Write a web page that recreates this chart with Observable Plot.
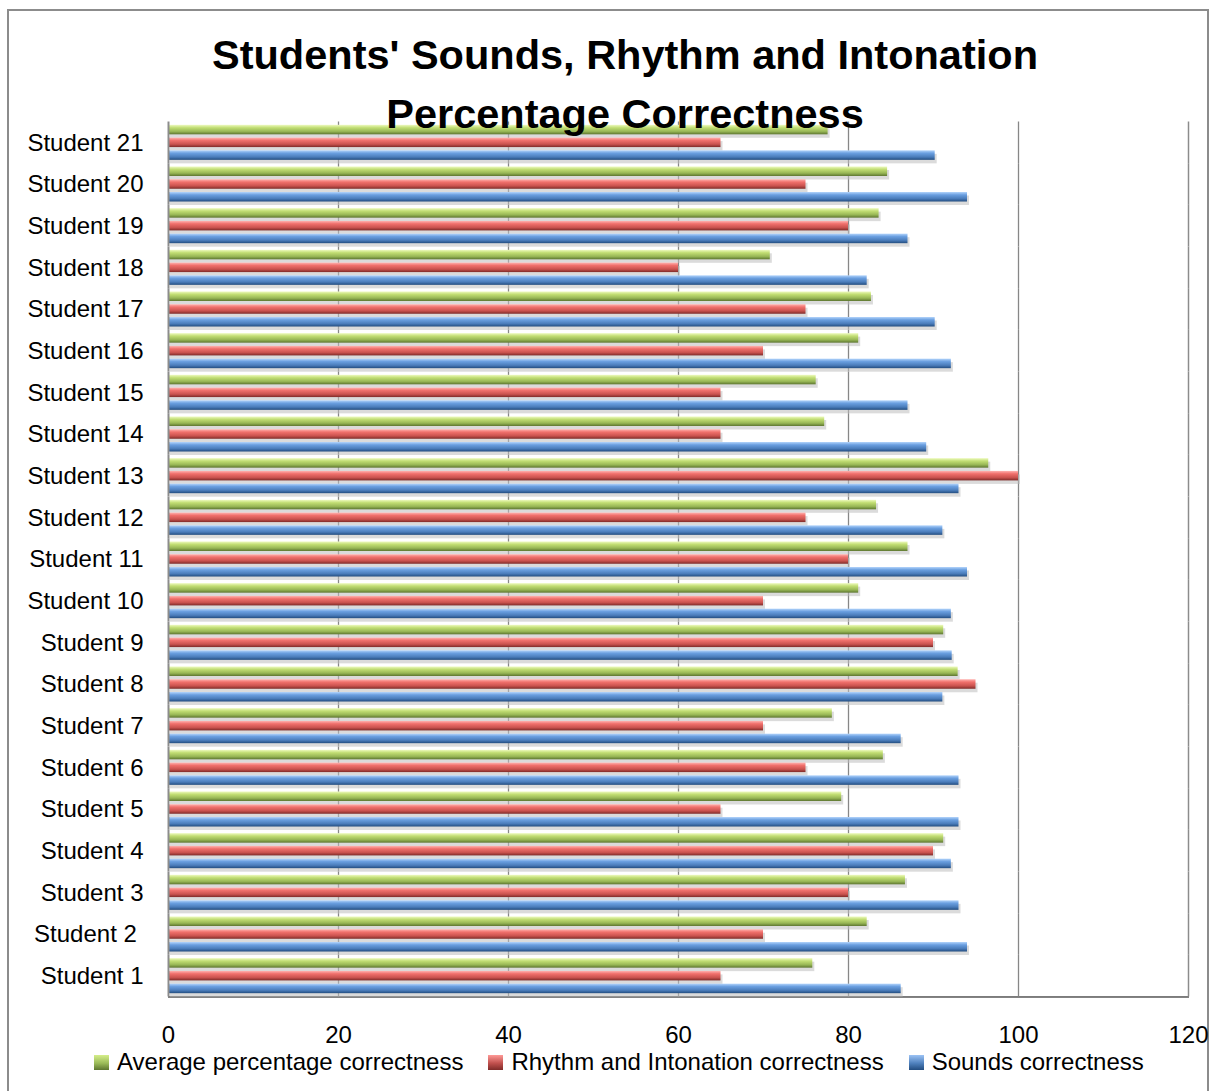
<!DOCTYPE html>
<html>
<head>
<meta charset="utf-8">
<script src="https://cdn.jsdelivr.net/npm/d3@7"></script>
<script src="https://cdn.jsdelivr.net/npm/@observablehq/plot@0.6"></script>
<style>
  html, body { margin: 0; padding: 0; background: #fff; }
  #wrap { position: relative; width: 1214px; height: 1091px; overflow: hidden; font-family: "Liberation Sans", Arial, sans-serif; }
  #border { position: absolute; left: 7px; top: 9px; width: 1202px; height: 1100px; border: 2px solid #8c8c8c; box-sizing: border-box; }
  #chart { position: absolute; left: 0; top: 0; }
  #title { position: absolute; left: 0; top: 25px; width: 1214px; box-sizing: border-box; padding-left: 36px; text-align: center; font-weight: bold; font-size: 41.5px; line-height: 59px; color: #000; z-index: 2; }
  #legend { position: absolute; left: 94px; top: 1050px; display: flex; align-items: center; font-size: 24px; line-height: 24px; color: #000; white-space: nowrap; }
  .item { display: flex; align-items: center; margin-right: 25px; }
  .sw { width: 15px; height: 15px; margin-right: 8px; box-sizing: border-box; }
  #chart svg g[aria-label*="axis line"] line, #chart svg g[aria-label*="axis line"] path { stroke: #8c8c8c; stroke-width: 2.5px; }
</style>
</head>
<body>
<div id="wrap">
  <div id="border"></div>
  <div id="chart"></div>
  <div id="title"></div>
  <div id="legend"></div>
</div>
<script>
// ---- data ----
const students = ["Student 1", "Student 2\u00a0", "Student 3", "Student 4", "Student 5", "Student 6", "Student 7",
  "Student 8", "Student 9", "Student 10", "Student 11", "Student 12", "Student 13", "Student 14",
  "Student 15", "Student 16", "Student 17", "Student 18", "Student 19", "Student 20", "Student 21"];
const seriesNames = ["Average percentage correctness", "Rhythm and Intonation correctness", "Sounds correctness"];
const averageCorrectness = [75.8, 82.2, 86.7, 91.2, 79.2, 84.1, 78.1, 92.9, 91.2, 81.2, 87, 83.3, 96.5, 77.2, 76.2, 81.2, 82.7, 70.8, 83.6, 84.6, 77.6];
const rhythmCorrectness = [65, 70, 80, 90, 65, 75, 70, 95, 90, 70, 80, 75, 100, 65, 65, 70, 75, 60, 80, 75, 65];
const soundsCorrectness = [86.2, 94, 93, 92.1, 93, 93, 86.2, 91.1, 92.2, 92.1, 94, 91.1, 93, 89.2, 87, 92.1, 90.2, 82.2, 87, 94, 90.2];
const xTicks = [0, 20, 40, 60, 80, 100, 120];
const titleLines = ["Students' Sounds, Rhythm and Intonation", "Percentage Correctness"];

const gradIds = ["gGreen", "gRed", "gBlue"];
const seriesValues = [averageCorrectness, rhythmCorrectness, soundsCorrectness];
const rows = [];
seriesNames.forEach((s, si) => students.forEach((st, i) => rows.push({student: st, series: s, value: seriesValues[si][i]})));

const marks = [
  Plot.ruleX(xTicks.slice(1, -1), {stroke: "#878787", strokeWidth: 1.3}),
  Plot.ruleX([120], {stroke: "#8c8c8c", strokeWidth: 1.5}),
  // soft 3D shadow under each bar
  Plot.barX(rows, {fy: "student", y: "series", x: "value", fill: "#bdbdbd", fillOpacity: 0.55, dx: 2, dy: 3.5}),
  ...seriesNames.map((s, si) => Plot.barX(rows.filter(d => d.series === s), {
    fy: "student", y: "series", x: "value", fill: `url(#${gradIds[si]})`
  })),
  Plot.ruleX([0], {stroke: "#8c8c8c", strokeWidth: 2})
];

const plot = Plot.plot({
  width: 1214, height: 1091,
  marginTop: 121.5, marginBottom: 94.5, marginLeft: 168, marginRight: 26,
  style: {fontSize: "24px", fontFamily: "'Liberation Sans', Arial, sans-serif", color: "#000", background: "transparent", overflow: "visible"},
  x: {domain: [0, 120], ticks: xTicks, tickSize: 0, tickPadding: 28.5, line: true, label: null, tickFormat: d => String(d)},
  y: {domain: seriesNames, paddingInner: 0.255, paddingOuter: 0.26, round: false, axis: null},
  fy: {domain: students.slice().reverse(), padding: 0, round: false, axis: "left", tickSize: 0, tickPadding: 25, label: null},
  marks
});

const defs = `<defs>
 <linearGradient id="gGreen" x1="0" y1="0" x2="0" y2="1">
  <stop offset="0" stop-color="#eefac0"/><stop offset="0.3" stop-color="#c2de74"/><stop offset="0.7" stop-color="#97b655"/><stop offset="1" stop-color="#5d7630"/>
 </linearGradient>
 <linearGradient id="gRed" x1="0" y1="0" x2="0" y2="1">
  <stop offset="0" stop-color="#ffb3b0"/><stop offset="0.3" stop-color="#f0706c"/><stop offset="0.7" stop-color="#c9524e"/><stop offset="1" stop-color="#7e2b29"/>
 </linearGradient>
 <linearGradient id="gBlue" x1="0" y1="0" x2="0" y2="1">
  <stop offset="0" stop-color="#b3d4fb"/><stop offset="0.3" stop-color="#6a9fe0"/><stop offset="0.7" stop-color="#4a7cba"/><stop offset="1" stop-color="#234d80"/>
 </linearGradient>
</defs>`;
plot.insertAdjacentHTML("afterbegin", defs);
document.getElementById("chart").appendChild(plot);

document.getElementById("title").innerHTML = titleLines.map(t => `<div>${t}</div>`).join("");

const legend = document.getElementById("legend");
const swGrad = [
  "linear-gradient(#d5ee8a, #9bbb59 55%, #5d7630)",
  "linear-gradient(#ff9a97, #c0504d 55%, #7e2b29)",
  "linear-gradient(#9cc3f5, #4f81bd 55%, #234d80)"
];
seriesNames.forEach((s, i) => {
  const it = document.createElement("div");
  it.className = "item";
  it.innerHTML = `<span class="sw" style="background:${swGrad[i]}"></span><span>${s}</span>`;
  legend.appendChild(it);
});
</script>
</body>
</html>
